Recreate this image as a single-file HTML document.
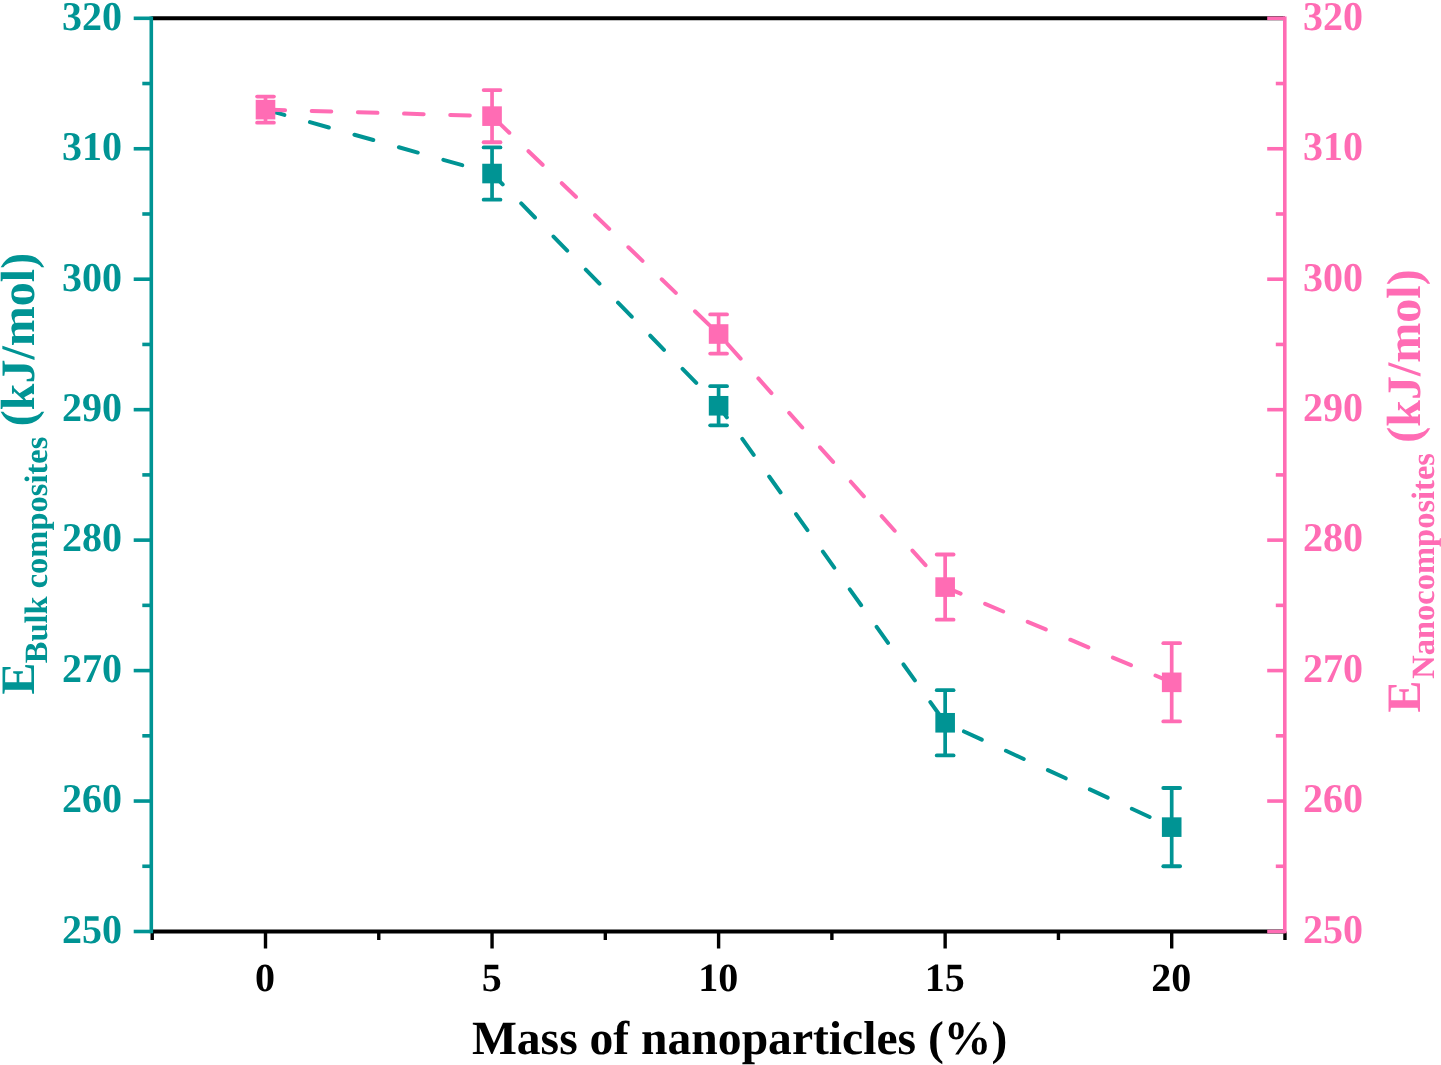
<!DOCTYPE html>
<html><head><meta charset="utf-8"><style>html,body{margin:0;padding:0;background:#fff;}svg{display:block;}</style></head>
<body>
<svg text-rendering="geometricPrecision" width="1441" height="1065" viewBox="0 0 1441 1065">
<rect width="1441" height="1065" fill="#fff"/>
<line x1="151.3" y1="18.3" x2="1284.8" y2="18.3" stroke="#000" stroke-width="3.9"/>
<line x1="151.3" y1="931.5" x2="1284.8" y2="931.5" stroke="#000" stroke-width="3.9"/>
<line x1="152.22" y1="931.5" x2="152.22" y2="940.0" stroke="#000" stroke-width="3.4"/>
<line x1="265.50" y1="931.5" x2="265.50" y2="948.5" stroke="#000" stroke-width="3.4"/>
<line x1="378.77" y1="931.5" x2="378.77" y2="940.0" stroke="#000" stroke-width="3.4"/>
<line x1="492.05" y1="931.5" x2="492.05" y2="948.5" stroke="#000" stroke-width="3.4"/>
<line x1="605.33" y1="931.5" x2="605.33" y2="940.0" stroke="#000" stroke-width="3.4"/>
<line x1="718.60" y1="931.5" x2="718.60" y2="948.5" stroke="#000" stroke-width="3.4"/>
<line x1="831.88" y1="931.5" x2="831.88" y2="940.0" stroke="#000" stroke-width="3.4"/>
<line x1="945.15" y1="931.5" x2="945.15" y2="948.5" stroke="#000" stroke-width="3.4"/>
<line x1="1058.43" y1="931.5" x2="1058.43" y2="940.0" stroke="#000" stroke-width="3.4"/>
<line x1="1171.70" y1="931.5" x2="1171.70" y2="948.5" stroke="#000" stroke-width="3.4"/>
<line x1="1284.97" y1="931.5" x2="1284.97" y2="940.0" stroke="#000" stroke-width="3.4"/>
<line x1="151.3" y1="16.5" x2="151.3" y2="933.3" stroke="#009494" stroke-width="3.6"/>
<line x1="133.70" y1="931.50" x2="151.3" y2="931.50" stroke="#009494" stroke-width="3.6"/>
<line x1="142.30" y1="866.27" x2="151.3" y2="866.27" stroke="#009494" stroke-width="3.6"/>
<line x1="133.70" y1="801.04" x2="151.3" y2="801.04" stroke="#009494" stroke-width="3.6"/>
<line x1="142.30" y1="735.81" x2="151.3" y2="735.81" stroke="#009494" stroke-width="3.6"/>
<line x1="133.70" y1="670.59" x2="151.3" y2="670.59" stroke="#009494" stroke-width="3.6"/>
<line x1="142.30" y1="605.36" x2="151.3" y2="605.36" stroke="#009494" stroke-width="3.6"/>
<line x1="133.70" y1="540.13" x2="151.3" y2="540.13" stroke="#009494" stroke-width="3.6"/>
<line x1="142.30" y1="474.90" x2="151.3" y2="474.90" stroke="#009494" stroke-width="3.6"/>
<line x1="133.70" y1="409.67" x2="151.3" y2="409.67" stroke="#009494" stroke-width="3.6"/>
<line x1="142.30" y1="344.44" x2="151.3" y2="344.44" stroke="#009494" stroke-width="3.6"/>
<line x1="133.70" y1="279.21" x2="151.3" y2="279.21" stroke="#009494" stroke-width="3.6"/>
<line x1="142.30" y1="213.99" x2="151.3" y2="213.99" stroke="#009494" stroke-width="3.6"/>
<line x1="133.70" y1="148.76" x2="151.3" y2="148.76" stroke="#009494" stroke-width="3.6"/>
<line x1="142.30" y1="83.53" x2="151.3" y2="83.53" stroke="#009494" stroke-width="3.6"/>
<line x1="133.70" y1="18.30" x2="151.3" y2="18.30" stroke="#009494" stroke-width="3.6"/>
<line x1="1284.8" y1="16.5" x2="1284.8" y2="933.3" stroke="#FF6CB4" stroke-width="3.6"/>
<line x1="1267.20" y1="931.50" x2="1284.8" y2="931.50" stroke="#FF6CB4" stroke-width="3.6"/>
<line x1="1275.80" y1="866.27" x2="1284.8" y2="866.27" stroke="#FF6CB4" stroke-width="3.6"/>
<line x1="1267.20" y1="801.04" x2="1284.8" y2="801.04" stroke="#FF6CB4" stroke-width="3.6"/>
<line x1="1275.80" y1="735.81" x2="1284.8" y2="735.81" stroke="#FF6CB4" stroke-width="3.6"/>
<line x1="1267.20" y1="670.59" x2="1284.8" y2="670.59" stroke="#FF6CB4" stroke-width="3.6"/>
<line x1="1275.80" y1="605.36" x2="1284.8" y2="605.36" stroke="#FF6CB4" stroke-width="3.6"/>
<line x1="1267.20" y1="540.13" x2="1284.8" y2="540.13" stroke="#FF6CB4" stroke-width="3.6"/>
<line x1="1275.80" y1="474.90" x2="1284.8" y2="474.90" stroke="#FF6CB4" stroke-width="3.6"/>
<line x1="1267.20" y1="409.67" x2="1284.8" y2="409.67" stroke="#FF6CB4" stroke-width="3.6"/>
<line x1="1275.80" y1="344.44" x2="1284.8" y2="344.44" stroke="#FF6CB4" stroke-width="3.6"/>
<line x1="1267.20" y1="279.21" x2="1284.8" y2="279.21" stroke="#FF6CB4" stroke-width="3.6"/>
<line x1="1275.80" y1="213.99" x2="1284.8" y2="213.99" stroke="#FF6CB4" stroke-width="3.6"/>
<line x1="1267.20" y1="148.76" x2="1284.8" y2="148.76" stroke="#FF6CB4" stroke-width="3.6"/>
<line x1="1275.80" y1="83.53" x2="1284.8" y2="83.53" stroke="#FF6CB4" stroke-width="3.6"/>
<line x1="1267.20" y1="18.30" x2="1284.8" y2="18.30" stroke="#FF6CB4" stroke-width="3.6"/>
<g font-family="Liberation Serif, serif" font-weight="bold" font-size="40">
<text transform="translate(121.9 942.80) scale(1 1.022)" text-anchor="end" fill="#009494">250</text>
<text transform="translate(1303.1 942.80) scale(1 1.022)" fill="#FF6CB4">250</text>
<text transform="translate(121.9 812.34) scale(1 1.022)" text-anchor="end" fill="#009494">260</text>
<text transform="translate(1303.1 812.34) scale(1 1.022)" fill="#FF6CB4">260</text>
<text transform="translate(121.9 681.89) scale(1 1.022)" text-anchor="end" fill="#009494">270</text>
<text transform="translate(1303.1 681.89) scale(1 1.022)" fill="#FF6CB4">270</text>
<text transform="translate(121.9 551.43) scale(1 1.022)" text-anchor="end" fill="#009494">280</text>
<text transform="translate(1303.1 551.43) scale(1 1.022)" fill="#FF6CB4">280</text>
<text transform="translate(121.9 420.97) scale(1 1.022)" text-anchor="end" fill="#009494">290</text>
<text transform="translate(1303.1 420.97) scale(1 1.022)" fill="#FF6CB4">290</text>
<text transform="translate(121.9 290.51) scale(1 1.022)" text-anchor="end" fill="#009494">300</text>
<text transform="translate(1303.1 290.51) scale(1 1.022)" fill="#FF6CB4">300</text>
<text transform="translate(121.9 160.06) scale(1 1.022)" text-anchor="end" fill="#009494">310</text>
<text transform="translate(1303.1 160.06) scale(1 1.022)" fill="#FF6CB4">310</text>
<text transform="translate(121.9 29.60) scale(1 1.022)" text-anchor="end" fill="#009494">320</text>
<text transform="translate(1303.1 29.60) scale(1 1.022)" fill="#FF6CB4">320</text>
<text x="265.10" y="991.2" text-anchor="middle" fill="#000">0</text>
<text x="491.65" y="991.2" text-anchor="middle" fill="#000">5</text>
<text x="718.20" y="991.2" text-anchor="middle" fill="#000">10</text>
<text x="944.75" y="991.2" text-anchor="middle" fill="#000">15</text>
<text x="1171.30" y="991.2" text-anchor="middle" fill="#000">20</text>
</g>
<g font-family="Liberation Serif, serif" font-weight="bold">
<text x="739.6" y="1053.8" text-anchor="middle" font-size="47.6" fill="#000">Mass of nanoparticles (%)</text>
<text transform="translate(34.3 694.6) rotate(-90)" font-size="48" fill="#009494">E<tspan font-size="32.5" dx="-0.7" dy="12.5">Bulk composites</tspan><tspan dx="-1.5" dy="-12.5"> (kJ/mol)</tspan></text>
<text transform="translate(1420.2 712.4) rotate(-90)" font-size="48" fill="#FF6CB4">E<tspan font-size="32.5" dx="1.7" dy="13.5">Nanocomposites</tspan><tspan dx="-1.7" dy="-13.5"> (kJ/mol)</tspan></text>
</g>
<path d="M265.50 109.62 L492.05 173.54 L718.60 405.76 L945.15 722.77 L1171.70 827.13" fill="none" stroke="#009494" stroke-width="4" stroke-dasharray="19.6 26.6" stroke-linecap="round" stroke-linejoin="round"/>
<line x1="492.05" y1="147.45" x2="492.05" y2="199.64" stroke="#009494" stroke-width="3.7"/>
<line x1="483.65" y1="147.45" x2="500.45" y2="147.45" stroke="#009494" stroke-width="3.8" stroke-linecap="round"/>
<line x1="483.65" y1="199.64" x2="500.45" y2="199.64" stroke="#009494" stroke-width="3.8" stroke-linecap="round"/>
<rect x="482.25" y="163.74" width="19.6" height="19.6" fill="#009494"/>
<line x1="718.60" y1="386.19" x2="718.60" y2="425.33" stroke="#009494" stroke-width="3.7"/>
<line x1="710.20" y1="386.19" x2="727.00" y2="386.19" stroke="#009494" stroke-width="3.8" stroke-linecap="round"/>
<line x1="710.20" y1="425.33" x2="727.00" y2="425.33" stroke="#009494" stroke-width="3.8" stroke-linecap="round"/>
<rect x="708.80" y="395.96" width="19.6" height="19.6" fill="#009494"/>
<line x1="945.15" y1="690.15" x2="945.15" y2="755.38" stroke="#009494" stroke-width="3.7"/>
<line x1="936.75" y1="690.15" x2="953.55" y2="690.15" stroke="#009494" stroke-width="3.8" stroke-linecap="round"/>
<line x1="936.75" y1="755.38" x2="953.55" y2="755.38" stroke="#009494" stroke-width="3.8" stroke-linecap="round"/>
<rect x="935.35" y="712.97" width="19.6" height="19.6" fill="#009494"/>
<line x1="1171.70" y1="788.00" x2="1171.70" y2="866.27" stroke="#009494" stroke-width="3.7"/>
<line x1="1163.30" y1="788.00" x2="1180.10" y2="788.00" stroke="#009494" stroke-width="3.8" stroke-linecap="round"/>
<line x1="1163.30" y1="866.27" x2="1180.10" y2="866.27" stroke="#009494" stroke-width="3.8" stroke-linecap="round"/>
<rect x="1161.90" y="817.33" width="19.6" height="19.6" fill="#009494"/>
<path d="M265.50 109.62 L492.05 116.14 L718.60 334.01 L945.15 587.09 L1171.70 682.33" fill="none" stroke="#FF6CB4" stroke-width="4" stroke-dasharray="19.6 26.6" stroke-linecap="round" stroke-linejoin="round"/>
<line x1="265.50" y1="96.57" x2="265.50" y2="122.67" stroke="#FF6CB4" stroke-width="3.7"/>
<line x1="257.10" y1="96.57" x2="273.90" y2="96.57" stroke="#FF6CB4" stroke-width="3.8" stroke-linecap="round"/>
<line x1="257.10" y1="122.67" x2="273.90" y2="122.67" stroke="#FF6CB4" stroke-width="3.8" stroke-linecap="round"/>
<rect x="255.70" y="99.82" width="19.6" height="19.6" fill="#FF6CB4"/>
<line x1="492.05" y1="90.05" x2="492.05" y2="142.23" stroke="#FF6CB4" stroke-width="3.7"/>
<line x1="483.65" y1="90.05" x2="500.45" y2="90.05" stroke="#FF6CB4" stroke-width="3.8" stroke-linecap="round"/>
<line x1="483.65" y1="142.23" x2="500.45" y2="142.23" stroke="#FF6CB4" stroke-width="3.8" stroke-linecap="round"/>
<rect x="482.25" y="106.34" width="19.6" height="19.6" fill="#FF6CB4"/>
<line x1="718.60" y1="314.44" x2="718.60" y2="353.57" stroke="#FF6CB4" stroke-width="3.7"/>
<line x1="710.20" y1="314.44" x2="727.00" y2="314.44" stroke="#FF6CB4" stroke-width="3.8" stroke-linecap="round"/>
<line x1="710.20" y1="353.57" x2="727.00" y2="353.57" stroke="#FF6CB4" stroke-width="3.8" stroke-linecap="round"/>
<rect x="708.80" y="324.21" width="19.6" height="19.6" fill="#FF6CB4"/>
<line x1="945.15" y1="554.48" x2="945.15" y2="619.71" stroke="#FF6CB4" stroke-width="3.7"/>
<line x1="936.75" y1="554.48" x2="953.55" y2="554.48" stroke="#FF6CB4" stroke-width="3.8" stroke-linecap="round"/>
<line x1="936.75" y1="619.71" x2="953.55" y2="619.71" stroke="#FF6CB4" stroke-width="3.8" stroke-linecap="round"/>
<rect x="935.35" y="577.29" width="19.6" height="19.6" fill="#FF6CB4"/>
<line x1="1171.70" y1="643.19" x2="1171.70" y2="721.46" stroke="#FF6CB4" stroke-width="3.7"/>
<line x1="1163.30" y1="643.19" x2="1180.10" y2="643.19" stroke="#FF6CB4" stroke-width="3.8" stroke-linecap="round"/>
<line x1="1163.30" y1="721.46" x2="1180.10" y2="721.46" stroke="#FF6CB4" stroke-width="3.8" stroke-linecap="round"/>
<rect x="1161.90" y="672.53" width="19.6" height="19.6" fill="#FF6CB4"/>
</svg>
</body></html>
